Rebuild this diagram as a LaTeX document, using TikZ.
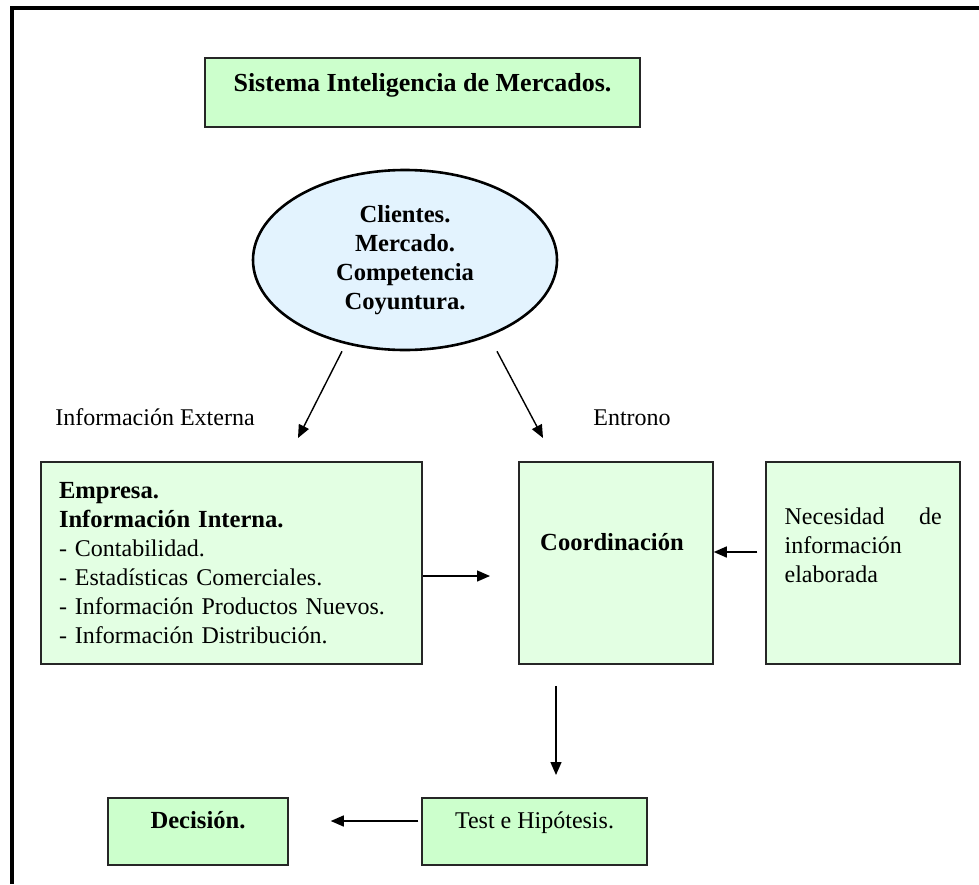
\documentclass[tikz,border=0pt]{standalone}
\usepackage{fontspec}
\setmainfont{Liberation Serif}
\usetikzlibrary{shapes.geometric,arrows.meta}
\definecolor{mintfill}{HTML}{CCFFCC}
\definecolor{palemint}{HTML}{E3FFE3}
\definecolor{skyfill}{HTML}{E3F3FE}
\newcommand\diagtxt{\fontsize{12}{14.5}\selectfont}
\newcommand\diagbold{\fontsize{12.3}{14.5}\selectfont\bfseries}
\newcommand\titlefont{\fontsize{13}{15}\selectfont\bfseries}

\begin{document}
\begin{tikzpicture}[x=0.5pt, y=-0.5pt]
  \tikzstyle{box} = [rectangle, draw=black!85, line width=0.75pt, fill=mintfill, inner sep=0pt]
  \tikzstyle{pale} = [box, fill=palemint]
  \tikzstyle{bubble} = [ellipse, draw=black, line width=1.3pt, fill=skyfill, inner sep=0pt]
  \tikzstyle{arr} = [-{Triangle[length=6.5pt,width=5.5pt]}, line width=0.7pt]
\useasboundingbox (0,0) rectangle (979,884);
\draw[line width=2pt, line join=miter] (979,8) -- (12,8) -- (12,884);
% top part
\node[box, minimum width=217.5pt, minimum height=34.5pt,
      label={[anchor=base, shift={(0pt,-17pt)}, font=\titlefont]north:Sistema Inteligencia de Mercados.}](title) at (422.5,92.5){};
\node[bubble, minimum width=152pt, minimum height=90pt, font=\diagbold, align=center](mkt) at (405,260)
      {Clientes.\\Mercado.\\Competencia\\Coyuntura.};
\node[anchor=base west, font=\diagtxt, inner sep=0pt](extlbl) at (55,425){Información Externa};
\node[anchor=base west, font=\diagtxt, inner sep=0pt](envlbl) at (593,425){Entrono};
% middle row
\node[pale, minimum width=190.5pt, minimum height=101pt, text width=172.5pt, inner xsep=9pt,
      align=left, font=\diagtxt](emp) at (231.5,563)
      {{\diagbold Empresa.}\\{\diagbold Información Interna.}\\- Contabilidad.\\- Estadísticas Comerciales.\\- Información Productos Nuevos.\\- Información Distribución.};
\node[pale, minimum width=97pt, minimum height=101pt,
      label={[anchor=base, shift={(-2pt,-44.5pt)}, font=\diagbold]north:Coordinación}](coord) at (616,563){};
\node[pale, minimum width=97pt, minimum height=101pt,
      label={[anchor=north west, shift={(9.5pt,-23.3pt)}, text width=78.5pt, align=left, font=\diagtxt, inner sep=0pt]north west:Necesidad\hfill de\\información\\elaborada}](nec) at (863,563){};
% bottom row
\node[box, minimum width=112.5pt, minimum height=33.5pt,
      label={[anchor=base, shift={(0pt,-15.5pt)}, font=\diagtxt]north:Test e Hipótesis.}](test) at (534.5,831.5){};
\node[box, minimum width=90pt, minimum height=33.5pt,
      label={[anchor=base, shift={(0pt,-15.5pt)}, font=\diagbold]north:Decisión.}](dec) at (198,831.5){};
% arrows
\coordinate (tipE) at (298,438);
\coordinate (tipN) at (543,438);
\coordinate (tipC) at (490,576);
\coordinate (tipT) at (556,775);
\draw[arr] ([xshift=-31.5pt]mkt.south) -- (tipE);
\draw[arr] ([xshift=46pt]mkt.south) -- (tipN);
\draw[arr] (emp.east |- tipC) -- (tipC);
\draw[arr, shorten <=4pt] ([yshift=5.5pt]nec.west) -- ([yshift=5.5pt]coord.east);
\draw[arr, shorten <=10.5pt] (coord.south -| tipT) -- (tipT);
\draw[arr, shorten <=1.5pt, shorten >=21pt] ([yshift=5.25pt]test.west) -- ([yshift=5.25pt]dec.east);
\end{tikzpicture}
\end{document}
